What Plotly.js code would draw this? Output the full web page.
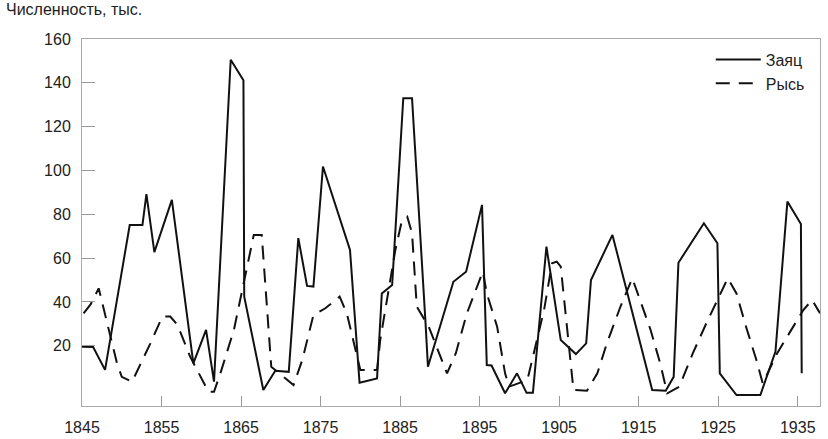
<!DOCTYPE html>
<html>
<head>
<meta charset="utf-8">
<script src="https://cdn.plot.ly/plotly-3.0.1.min.js"></script>
<style>
html,body{margin:0;padding:0;background:#fff;}
#chart{width:828px;height:439px;}
</style>
</head>
<body>
<div id="chart"></div>
<script>
// Заяц (hare) — vertices
const hareYears = [1845, 1846.4, 1847.9, 1851.0, 1852.6, 1853.1, 1854.1, 1856.3, 1859.0, 1860.6,
  1861.6, 1863.7, 1865.3, 1865.4, 1867.8, 1869.3, 1871.0, 1872.2, 1873.3, 1874.1,
  1875.3, 1878.7, 1879.9, 1882.1, 1882.7, 1884.0, 1885.4, 1886.5, 1888.2, 1888.5,
  1891.7, 1893.3, 1895.3, 1895.9, 1896.5, 1898.2, 1899.7, 1900.9, 1901.7, 1903.4,
  1905.2, 1907.1, 1908.4, 1909.0, 1911.7, 1916.7, 1918.4, 1919.4, 1920.0, 1923.2,
  1924.9, 1925.2, 1927.3, 1930.3, 1932.2, 1933.7, 1935.4, 1935.5];
const hareValues = [19.5, 19.4, 9.0, 75.1, 75.1, 89.2, 62.7, 86.6, 12.0, 27.2,
  3.6, 150.5, 141.2, 42.4, -0.2, 8.6, 8.1, 69.1, 47.3, 47.0,
  101.8, 63.7, 3.1, 5.1, 43.9, 47.7, 133.0, 133.0, 30.2, 10.4,
  49.2, 53.8, 84.3, 11.2, 11.0, -1.7, 7.4, -1.5, -1.5, 65.2,
  22.6, 16.2, 21.1, 50.0, 70.6, -0.2, -0.5, 5.8, 57.9, 75.9,
  66.8, 7.4, -2.5, -2.5, 17.3, 85.8, 75.6, 7.4];

// Рысь (lynx)
const lynxYears = [1845.2, 1846.1, 1847.1, 1849.4, 1850.0, 1851.3, 1853.6, 1855.1, 1856.1, 1857.0,
  1858.6, 1859.7, 1860.9, 1861.6, 1862.4, 1864.1, 1865.3, 1866.6, 1867.6, 1868.8,
  1871.6, 1872.7, 1874.1, 1875.6, 1877.4, 1878.3, 1880.0, 1882.1, 1882.5, 1883.4,
  1884.4, 1885.2, 1885.9, 1886.5, 1887.1, 1888.6, 1890.1, 1890.9, 1892.0, 1893.4,
  1895.4, 1895.9, 1897.2, 1898.2, 1898.7, 1901.0, 1901.8, 1903.1, 1904.1, 1904.7,
  1905.2, 1906.8, 1908.5, 1909.8, 1911.0, 1912.7, 1914.2, 1915.2, 1916.5, 1917.7,
  1918.6, 1920.1, 1921.8, 1923.5, 1924.9, 1926.2, 1927.3, 1928.5, 1929.8, 1930.6,
  1932.4, 1934.5, 1935.7, 1936.8, 1937.8];
const lynxValues = [34.8, 39.0, 46.2, 12.0, 5.8, 3.6, 21.1, 33.3, 33.3, 29.5,
  15.0, 7.4, -1.0, -1.0, 7.4, 27.2, 48.5, 70.6, 70.6, 10.4,
  2.1, 13.5, 34.0, 37.1, 42.4, 34.8, 8.9, 8.9, 22.6, 42.4,
  63.7, 76.7, 78.9, 71.4, 37.8, 28.7, 15.0, 7.4, 16.5, 34.8,
  53.8, 43.9, 28.7, 7.4, 1.3, 4.3, 16.5, 36.3, 57.6, 58.4,
  56.1, -0.2, -0.5, 7.4, 21.1, 37.8, 50.8, 40.9, 27.2, 12.0,
  -1.7, 1.3, 16.5, 30.2, 40.9, 50.8, 43.9, 28.7, 13.5, 2.8,
  16.5, 28.7, 36.3, 40.9, 34.8];

const seriesNames = ['Заяц', 'Рысь'];
const xTickVals = [1845, 1855, 1865, 1875, 1885, 1895, 1905, 1915, 1925, 1935];
const xTickText = ['1845', '1855', '1865', '1875', '1885', '1895', '1905', '1915', '1925', '1935'];
const yTickVals = [20, 40, 60, 80, 100, 120, 140, 160];
const yTickText = ['20', '40', '60', '80', '100', '120', '140', '160'];
const titleText = 'Численность, тыс.';

const FONT = '"Liberation Sans Narrow", "Arial Narrow", "Liberation Sans", Arial, sans-serif';

const traces = [
  {x: hareYears, y: hareValues, name: seriesNames[0], type: 'scatter', mode: 'lines',
   line: {color: '#111', width: 2}},
  {x: lynxYears, y: lynxValues, name: seriesNames[1], type: 'scatter', mode: 'lines',
   line: {color: '#111', width: 2, dash: '14px,9px'}}
];

const layout = {
  width: 828, height: 439,
  margin: {l: 82, r: 8, t: 39, b: 33},
  paper_bgcolor: '#fff', plot_bgcolor: '#fff',
  font: {family: FONT, color: '#222', size: 16},
  title: {text: titleText, x: 6/828, xref: 'container', xanchor: 'left',
          y: 1 - 4/439, yref: 'container', yanchor: 'top',
          font: {family: FONT, size: 16, color: '#222'}},
  showlegend: true,
  legend: {x: 0.852, y: 0.99, xanchor: 'left', yanchor: 'top', itemwidth: 45,
           bgcolor: 'rgba(0,0,0,0)', font: {family: FONT, size: 16, color: '#222'},
           tracegroupgap: 0},
  xaxis: {range: [1845, 1937.8], tickvals: xTickVals, ticktext: xTickText,
          ticks: 'inside', ticklen: 10, tickcolor: '#999', tickwidth: 1,
          showline: true, linecolor: '#aaa', linewidth: 1, mirror: true,
          showgrid: false, zeroline: false, ticklabelstandoff: 7,
          tickfont: {family: FONT, size: 16, color: '#222'}},
  yaxis: {range: [-7.5, 160], tickvals: yTickVals, ticktext: yTickText,
          ticks: 'inside', ticklen: 13, tickcolor: '#999', tickwidth: 1,
          showline: true, linecolor: '#aaa', linewidth: 1, mirror: true,
          showgrid: false, zeroline: false, ticklabelstandoff: 7,
          tickfont: {family: FONT, size: 16, color: '#222'}}
};

Plotly.newPlot('chart', traces, layout, {staticPlot: true, displayModeBar: false});
</script>
</body>
</html>
